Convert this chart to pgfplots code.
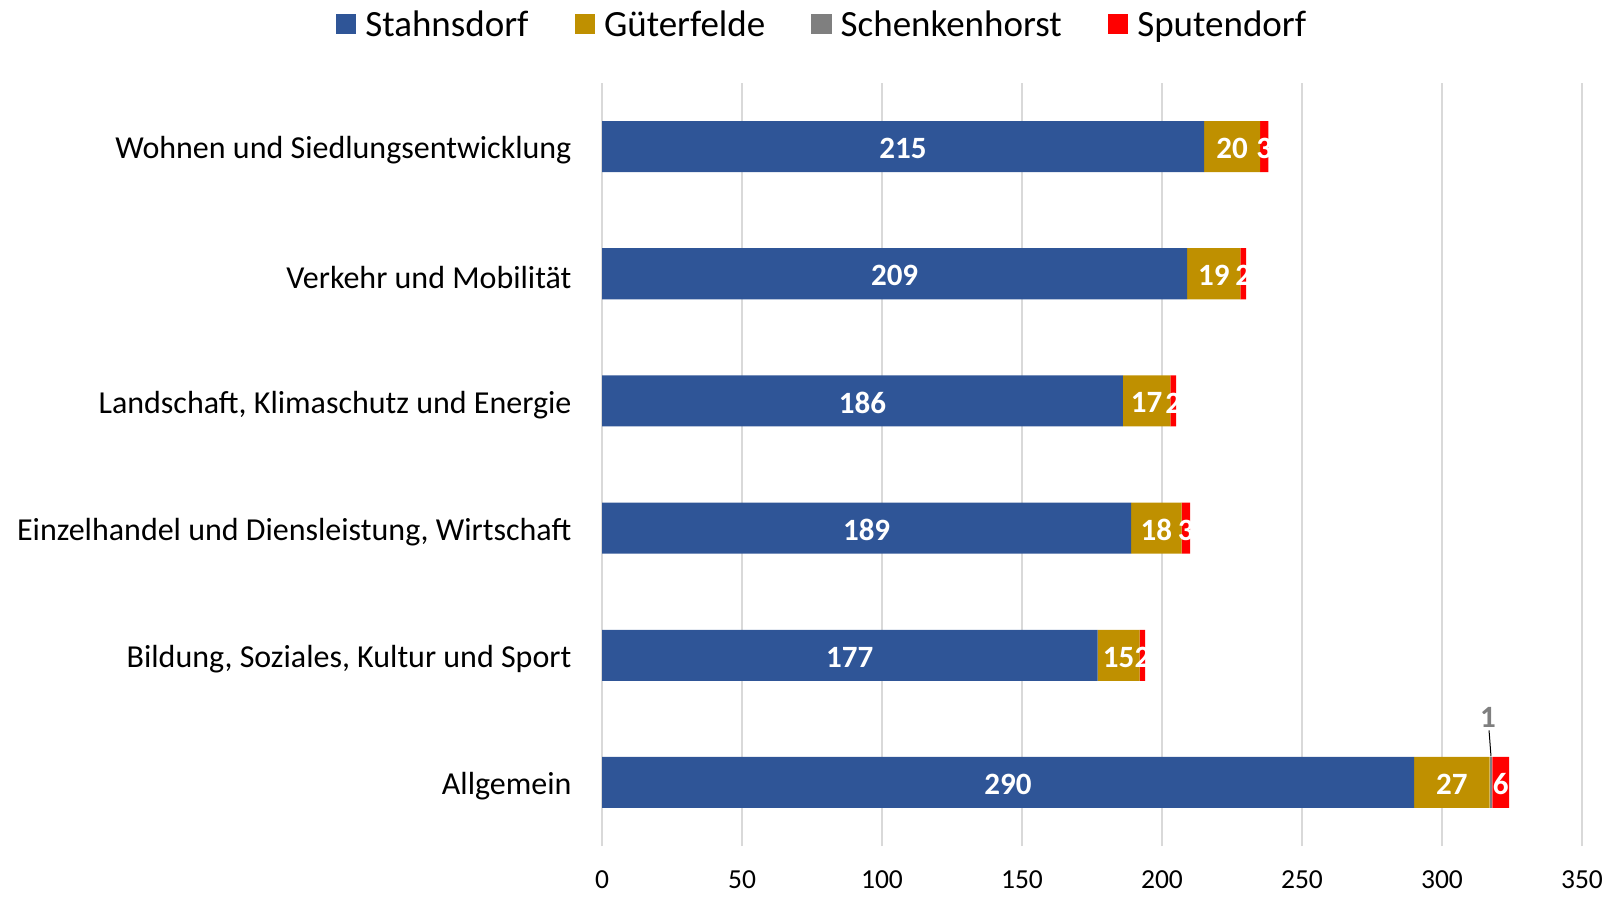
\documentclass[border=0pt]{standalone}
\usepackage{pgfplots}
\pgfplotsset{compat=1.18}
\usepackage{fontspec}
\setmainfont{Carlito}
\definecolor{cA}{HTML}{2F5597}
\definecolor{cB}{HTML}{BF9000}
\definecolor{cC}{HTML}{7F7F7F}
\definecolor{cD}{HTML}{FF0000}
\begin{document}
\begin{tikzpicture}
\path[use as bounding box] (0,0) rectangle (1608pt,897pt);
\begin{axis}[
  at={(602pt,51pt)}, anchor=south west,
  scale only axis, width=980pt, height=763pt,
  xbar stacked, bar width=51pt,
  xmin=0, xmax=350, ymin=-0.5, ymax=5.5,
  xtick={0,50,...,350},
  ytick={0,...,5},
  yticklabels={Allgemein,{Bildung, Soziales, Kultur und Sport},{Einzelhandel und Diensleistung, Wirtschaft},{Landschaft, Klimaschutz und Energie},Verkehr und Mobilität,Wohnen und Siedlungsentwicklung},
  axis line style={draw=none},
  major tick length=0pt,
  xmajorgrids, grid style={draw=black!15, line width=1.2pt},
  /pgf/number format/assume math mode=true,
  xticklabel style={font=\fontsize{27.5}{32}\selectfont, yshift=-23pt, inner sep=1pt},
  yticklabel style={font=\fontsize{32}{36}\selectfont, xshift=-27pt, yshift=-4pt},
  visualization depends on=rawx \as \rawx,
  legend columns=4,
  legend style={draw=none, fill=none, font=\fontsize{37}{42}\selectfont,
    at={(0.2245,1.0773)}, anchor=center,
    /tikz/every even column/.append style={column sep=44pt},
    /tikz/every odd column/.append style={column sep=7pt}},
  legend image code/.code={\fill[#1,draw=none] (0pt,-10pt) rectangle (20.5pt,10.5pt);},
]
\addplot[fill=cA, draw=none, nodes near coords={\pgfmathprintnumber{\rawx}},
  every node near coord/.append style={anchor=center, yshift=-2pt, text=white, font=\bfseries\fontsize{31}{36}\selectfont}]
  coordinates {(290,0) (177,1) (189,2) (186,3) (209,4) (215,5)};
\addplot[fill=cB, draw=none, nodes near coords={\pgfmathprintnumber{\rawx}},
  every node near coord/.append style={anchor=center, yshift=-2pt, text=white, font=\bfseries\fontsize{31}{36}\selectfont}]
  coordinates {(27,0) (15,1) (18,2) (17,3) (19,4) (20,5)};
\addplot[fill=cC, draw=none]
  coordinates {(1,0) (0,1) (0,2) (0,3) (0,4) (0,5)};
\addplot[fill=cD, draw=none, nodes near coords={\pgfmathprintnumber{\rawx}},
  every node near coord/.append style={anchor=center, yshift=-2pt, text=white, font=\bfseries\fontsize{31}{36}\selectfont}]
  coordinates {(6,0) (2,1) (3,2) (2,3) (2,4) (3,5)};
\legend{Stahnsdorf,Güterfelde,Schenkenhorst,Sputendorf}
\draw[black, line width=1pt] ([yshift=26pt]axis cs:317.5,0) -- ([yshift=52pt]axis cs:316.8,0);
\node[text=cC, font=\bfseries\fontsize{31}{36}\selectfont] at ([yshift=65pt]axis cs:316.4,0) {1};
\end{axis}
\end{tikzpicture}
\end{document}
